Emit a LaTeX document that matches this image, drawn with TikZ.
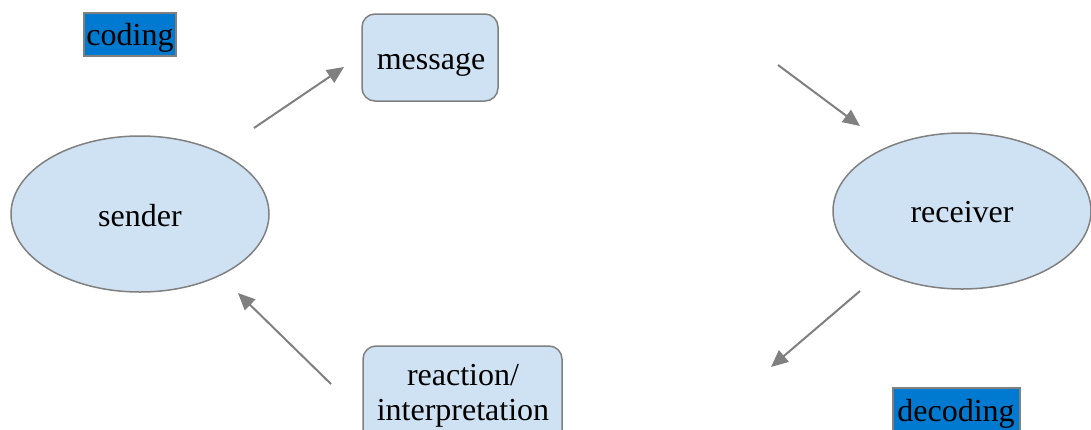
\documentclass[tikz,border=0pt]{standalone}
\usepackage{fontspec}
\setmainfont{Liberation Serif}
\usetikzlibrary{shapes.geometric,arrows.meta}
\definecolor{paleblue}{HTML}{CFE2F3}
\definecolor{tagblue}{RGB}{0,122,208}
\definecolor{edgegray}{HTML}{808080}
\tikzset{
  every node/.style={font=\fontsize{32}{35}\selectfont, text=black},
  bubble/.style={ellipse, draw=edgegray, line width=1.5pt, fill=paleblue,
    minimum width=258pt, minimum height=156pt, inner sep=0pt},
  card/.style={rectangle, rounded corners=13pt, draw=edgegray, line width=1.5pt,
    fill=paleblue, inner sep=0pt, align=center},
  tag/.style={rectangle, draw=edgegray, line width=1.5pt, fill=tagblue, inner sep=0pt},
  flow/.style={draw=edgegray, line width=2pt, -{Triangle[length=17pt,width=15pt]}}
}
\begin{document}
\begin{tikzpicture}[x=1pt,y=-1pt]
  \useasboundingbox (0,0) rectangle (1091,429);
  \clip (0,0) rectangle (1091,429);

  % participants
  \node[bubble] (sender) at (140,214) {};
  \node at (140,216) {sender};
  \node[bubble] (receiver) at (962,211) {};
  \node at (962,212) {receiver};

  % message and feedback cards
  \node[card, minimum width=136pt, minimum height=87pt] (message) at (430,57.5) {};
  \node at (431,65) {message};
  \node[card, minimum width=199pt, minimum height=110pt] (reaction) at (462.5,401) {};
  \node[align=center] (reactiontext) at (463,396) {reaction/\\interpretation};

  % process tags
  \node[tag, minimum width=92pt, minimum height=43pt] (coding) at (130,34.5) {};
  \node at (130,38) {coding};
  \node[tag, minimum width=127pt, minimum height=50pt] (decoding) at (956.5,413) {};
  \node at (956,414) {decoding};

  % cycle of arrows
  \coordinate (c1) at (254,128); \coordinate (c2) at (344,67);
  \coordinate (c3) at (778,65);  \coordinate (c4) at (860,126);
  \coordinate (c5) at (860,291); \coordinate (c6) at (771,367);
  \coordinate (c7) at (331,384); \coordinate (c8) at (238,293);
  \draw[flow] (c1) -- (c2);
  \draw[flow] (c3) -- (c4);
  \draw[flow] (c5) -- (c6);
  \draw[flow] (c7) -- (c8);
\end{tikzpicture}
\end{document}
